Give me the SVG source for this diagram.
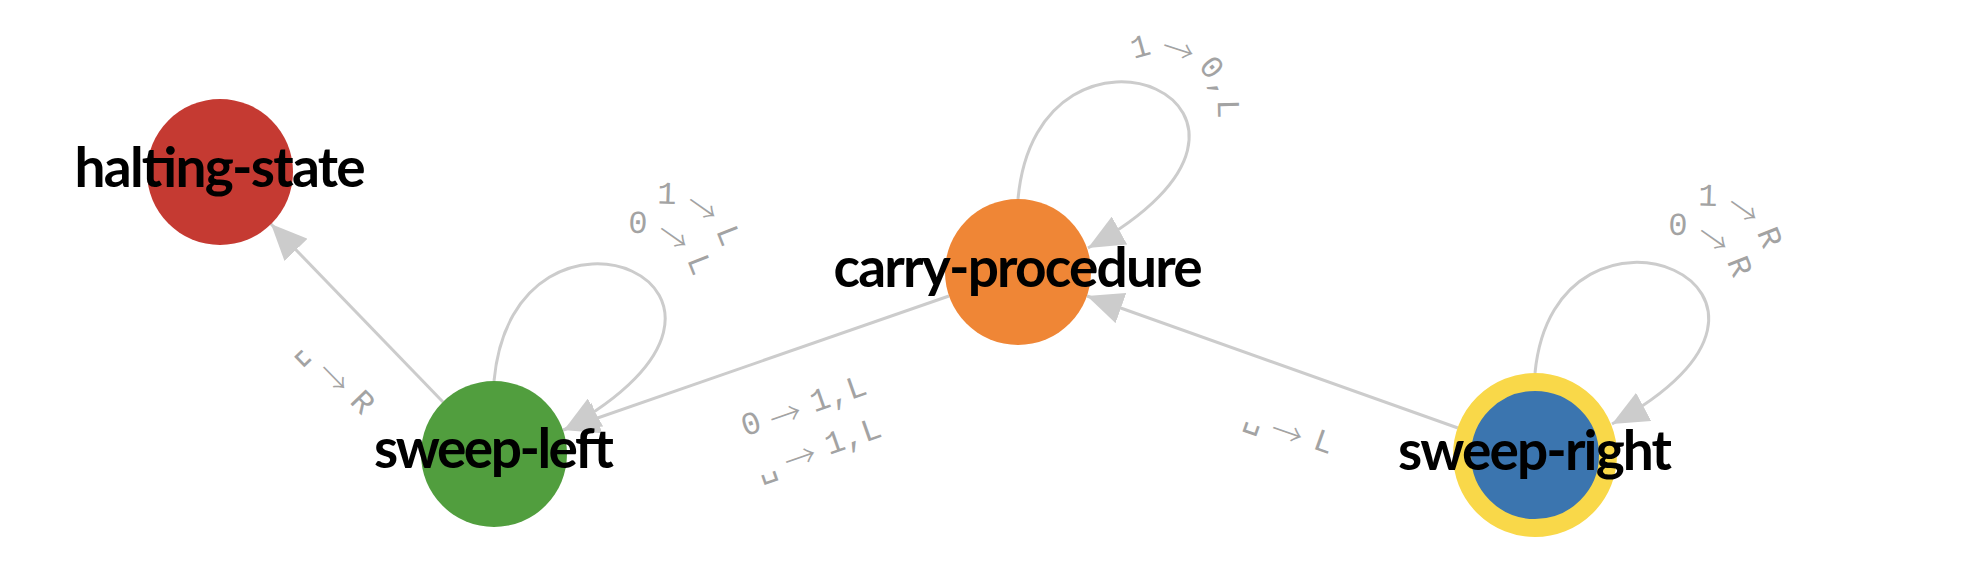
<svg xmlns="http://www.w3.org/2000/svg" xmlns:xlink="http://www.w3.org/1999/xlink" width="1964" height="582" viewBox="0 0 1964 582">
<style>
.edge{fill:none;stroke:#cccccc;stroke-width:3;marker-end:url(#arr)}
.elabel{font-family:"Liberation Mono","DejaVu Sans Mono",monospace;font-size:32px;fill:#a3a3a3;text-anchor:middle;dominant-baseline:central}
.ar{font-family:"Noto Sans CJK SC","DejaVu Sans",sans-serif;font-weight:300;letter-spacing:2.5px}
.loop{letter-spacing:3px}
.loop .ar{letter-spacing:3px}
.nlabel{font-family:Lato,"Liberation Sans",sans-serif;font-weight:bold;font-size:55px;fill:#000000;text-anchor:middle}
</style>
<defs>
<marker id="arr" markerUnits="userSpaceOnUse" viewBox="0 0 36 32" markerWidth="36" markerHeight="32" refX="36" refY="16" orient="auto">
<path d="M0,0L36,16L0,32Z" fill="#cccccc"/>
</marker>
<path id="lp-sl1" d="M607.98,228.5 A67,67 0 1 1 699.5,320"/>
<path id="lp-sl2" d="M578.98,257.5 A67,67 0 1 1 670.5,349"/>
<path id="lp-sr1" d="M1648.98,230.5 A67,67 0 1 1 1740.5,322"/>
<path id="lp-sr2" d="M1618.98,259.5 A67,67 0 1 1 1710.5,351"/>
<path id="lp-cp" d="M1101.98,78.5 A67,67 0 1 1 1193.5,170"/>
</defs>
<rect width="1964" height="582" fill="#ffffff"/>
<g id="connectors">
<path class="edge" d="M443,402 L271,224"/>
<path class="edge" d="M949,296 L563,430"/>
<path class="edge" d="M1458,428 L1087,296"/>
<path class="edge" d="M494,381 C514,164 819,289 564,430"/>
<path class="edge" d="M1018,199 C1038,-18 1343,107 1088,248"/>
<path class="edge" d="M1535,373 C1555,165 1860,290 1612,424"/>
<text class="elabel" transform="translate(336,377) rotate(45.8)">␣<tspan class="ar"> → </tspan>R</text>
<text class="elabel" transform="translate(811.4,427.8) rotate(-19.2)"><tspan x="0" y="-22.5">0<tspan class="ar"> → </tspan>1,L</tspan><tspan x="0" y="22.5">␣<tspan class="ar"> → </tspan>1,L</tspan></text>
<text class="elabel" transform="translate(1289,431) rotate(19.5)">␣<tspan class="ar"> → </tspan>L</text>
<text class="elabel loop"><textPath href="#lp-sl1" xlink:href="#lp-sl1" startOffset="111.1">1<tspan class="ar"> → </tspan>L</textPath></text>
<text class="elabel loop"><textPath href="#lp-sl2" xlink:href="#lp-sl2" startOffset="111.1">0<tspan class="ar"> → </tspan>L</textPath></text>
<text class="elabel loop"><textPath href="#lp-sr1" xlink:href="#lp-sr1" startOffset="111.1">1<tspan class="ar"> → </tspan>R</textPath></text>
<text class="elabel loop"><textPath href="#lp-sr2" xlink:href="#lp-sr2" startOffset="111.1">0<tspan class="ar"> → </tspan>R</textPath></text>
<text class="elabel loop"><textPath href="#lp-cp" xlink:href="#lp-cp" startOffset="112.8">1<tspan class="ar"> → </tspan>0,L</textPath></text>
</g>
<g id="node-halting-state">
<circle cx="220" cy="172" r="73" fill="#c53a32"/>
<text class="nlabel" x="220" y="187" textLength="291">halting-state</text>
</g>
<g id="node-carry-procedure">
<circle cx="1018" cy="272" r="73" fill="#ef8636"/>
<text class="nlabel" x="1018" y="287" textLength="369">carry-procedure</text>
</g>
<g id="node-sweep-left">
<circle cx="494" cy="454" r="73" fill="#519e3e"/>
<text class="nlabel" x="494" y="468" textLength="240">sweep-left</text>
</g>
<g id="node-sweep-right">
<circle cx="1535" cy="455" r="73" fill="#3b75af" stroke="#f9d849" stroke-width="18"/>
<text class="nlabel" x="1535" y="470" textLength="274">sweep-right</text>
</g>
</svg>
